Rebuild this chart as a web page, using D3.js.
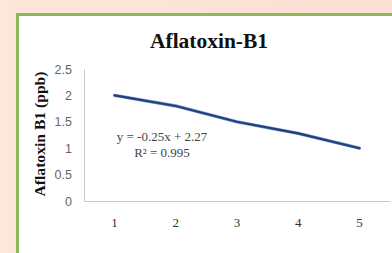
<!DOCTYPE html>
<html lang="en">
<head>
    <meta charset="UTF-8">
    <title>Aflatoxin-B1</title>
    <script src="https://d3js.org/d3.v7.min.js"></script>
    <style>
        body {
            margin: 0;
            padding: 0;
            overflow: hidden;
        }
        svg {
            display: block;
        }
        .tick text {
            font-family: "Liberation Serif", "Times New Roman", serif;
        }
    </style>
</head>
<body>
    <div id="chart"></div>

    <script>
        const width = 392;
        const height = 253;

        // data
        const categories = ["1", "2", "3", "4", "5"];
        const values = [2.0, 1.8, 1.5, 1.28, 1.0];
        const yTicks = [0, 0.5, 1, 1.5, 2, 2.5];
        const trendText = ["y = -0.25x + 2.27", "R\u00b2 = 0.995"];

        const svg = d3.select("#chart")
            .append("svg")
            .attr("width", width)
            .attr("height", height);

        // peach page background
        const defs = svg.append("defs");
        const grad = defs.append("linearGradient")
            .attr("id", "bg")
            .attr("x1", "0").attr("y1", "0")
            .attr("x2", "1").attr("y2", "0");
        grad.append("stop").attr("offset", "0%").attr("stop-color", "#fde6da");
        grad.append("stop").attr("offset", "100%").attr("stop-color", "#fddfd6");

        svg.append("rect")
            .attr("width", width)
            .attr("height", height)
            .attr("fill", "url(#bg)");

        // white panel with green frame
        svg.append("rect")
            .attr("x", 17.5)
            .attr("y", 14.5)
            .attr("width", width)
            .attr("height", height)
            .attr("fill", "#ffffff")
            .attr("stroke", "#8cb85a")
            .attr("stroke-width", 3);

        const margin = {top: 69, right: 2, bottom: 52, left: 84};

        const x = d3.scaleBand()
            .domain(categories)
            .range([margin.left, width - margin.right]);

        const y = d3.scaleLinear()
            .domain([0, 2.5])
            .range([height - margin.bottom, margin.top]);

        // y axis
        const yAxis = svg.append("g")
            .attr("transform", `translate(${margin.left},0)`)
            .call(d3.axisLeft(y).tickValues(yTicks).tickSize(0).tickPadding(12)
                .tickFormat(d => d));
        yAxis.select(".domain").attr("stroke", "#c8c8c8");
        yAxis.selectAll("text")
            .attr("fill", "#666")
            .style("font-family", "'Liberation Sans', Arial, sans-serif")
            .style("font-size", "12.5px");

        // x axis
        const xAxis = svg.append("g")
            .attr("transform", `translate(0,${y(0)})`)
            .call(d3.axisBottom(x).tickSize(0).tickPadding(17));
        xAxis.select(".domain").attr("stroke", "#c8c8c8");
        xAxis.selectAll("text")
            .attr("fill", "#333")
            .style("font-size", "13px");

        // series line
        const line = d3.line()
            .x((d, i) => x(categories[i]) + x.bandwidth() / 2)
            .y(d => y(d));

        svg.append("path")
            .datum(values)
            .attr("d", line)
            .attr("fill", "none")
            .attr("stroke", "#7b9fd4")
            .attr("stroke-width", 3.4)
            .attr("stroke-linecap", "round");

        svg.append("path")
            .datum(values)
            .attr("d", line)
            .attr("fill", "none")
            .attr("stroke", "#223f78")
            .attr("stroke-width", 2.2)
            .attr("stroke-linecap", "round");

        // trendline equation
        svg.append("g")
            .selectAll("text")
            .data(trendText)
            .enter().append("text")
            .attr("x", 162)
            .attr("y", (d, i) => 141 + i * 16)
            .attr("text-anchor", "middle")
            .attr("fill", "#444")
            .style("font-family", "'Liberation Serif', 'Times New Roman', serif")
            .style("font-size", "13px")
            .text(d => d);

        // title
        svg.append("text")
            .attr("x", 209)
            .attr("y", 48)
            .attr("text-anchor", "middle")
            .attr("fill", "#111")
            .attr("textLength", 118)
            .attr("lengthAdjust", "spacingAndGlyphs")
            .style("font-family", "'Liberation Serif', 'Times New Roman', serif")
            .style("font-weight", "bold")
            .style("font-size", "21px")
            .text("Aflatoxin-B1");

        // y axis title
        svg.append("text")
            .attr("transform", "translate(45,134) rotate(-90)")
            .attr("text-anchor", "middle")
            .attr("fill", "#111")
            .attr("textLength", 125)
            .attr("lengthAdjust", "spacingAndGlyphs")
            .style("font-family", "'Liberation Serif', 'Times New Roman', serif")
            .style("font-weight", "bold")
            .style("font-size", "14.5px")
            .text("Aflatoxin B1 (ppb)");
    </script>
</body>
</html>
